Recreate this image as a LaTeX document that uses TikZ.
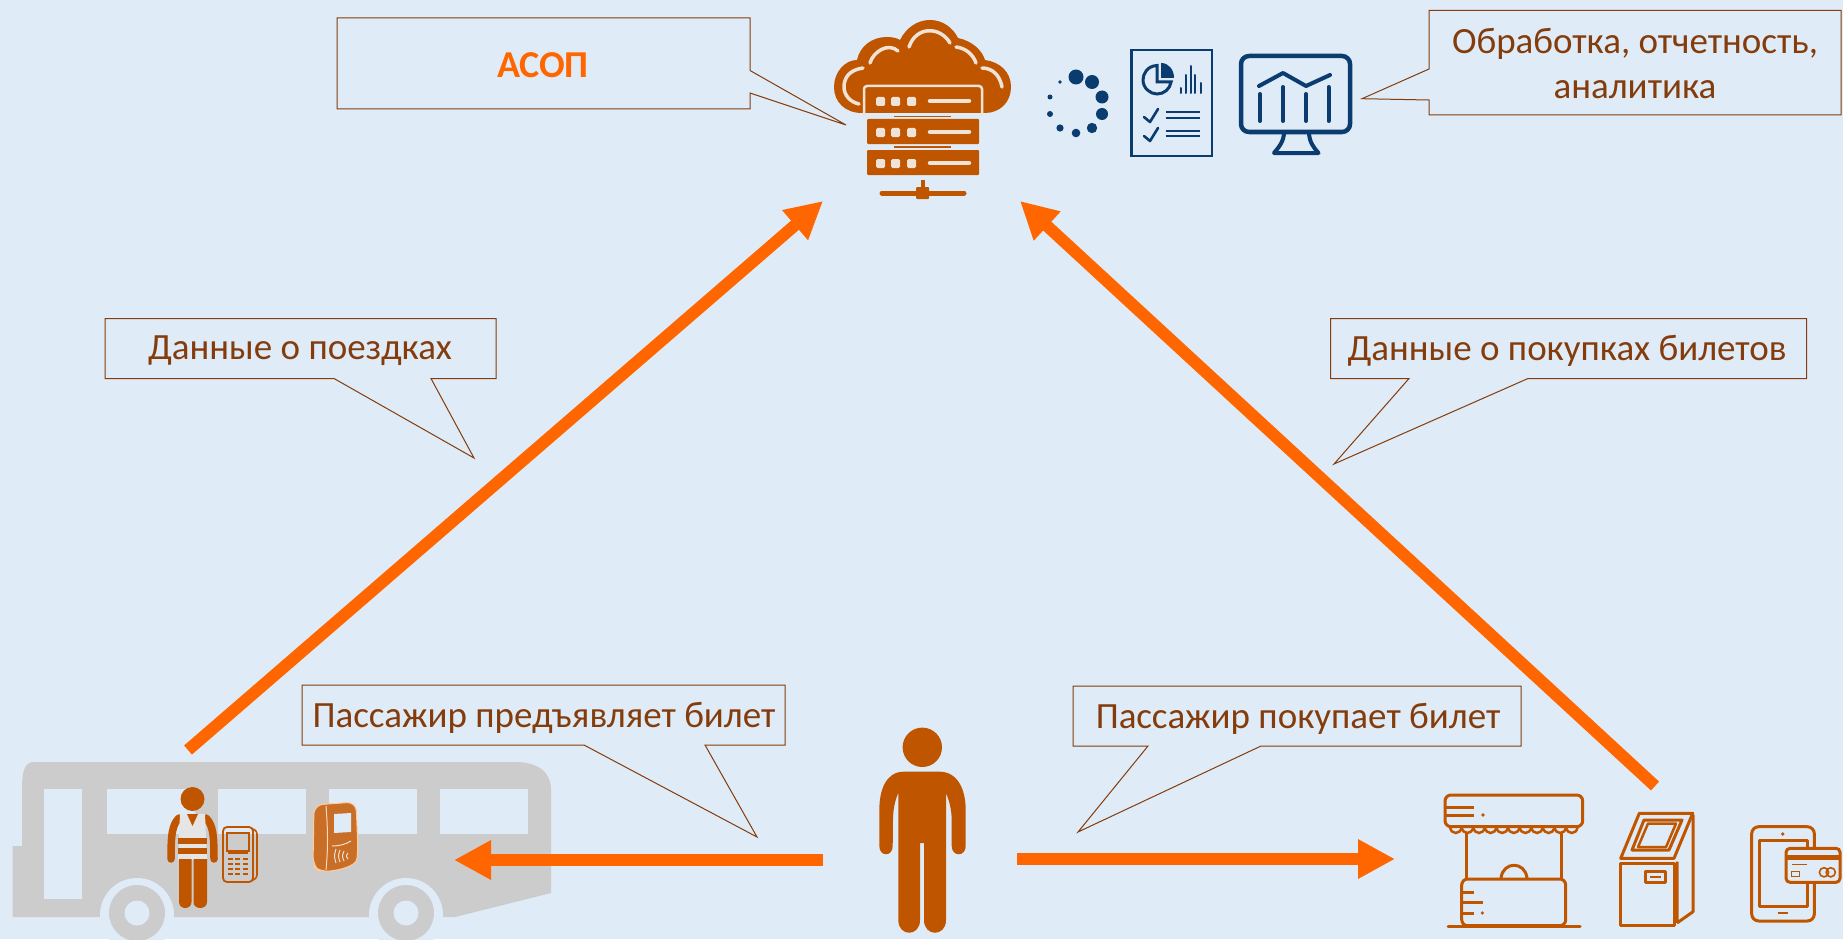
\documentclass[tikz,border=0pt]{standalone}
\usepackage{fontspec}
\setmainfont{Carlito}
\usetikzlibrary{arrows.meta}
\definecolor{bgc}{HTML}{DFEBF6}
\definecolor{brn}{HTML}{843C0C}
\definecolor{org}{HTML}{FF6600}
\definecolor{ico}{HTML}{C05500}
\definecolor{blu}{HTML}{0B3C70}
\definecolor{gry}{HTML}{CCCCCC}
\definecolor{lite}{HTML}{EFE3D8}
\tikzset{
 lbl/.style={text=brn,font=\fontsize{37}{45}\selectfont,align=center,inner sep=0pt},
 bubble/.style={draw=brn,line width=1pt,line join=miter},
 bigarrow/.style={org,line width=12pt,-{Triangle[length=37pt,width=37pt]}},
 lineicon/.style={draw=ico,line width=3pt,line join=round},
 hl/.style={draw=lite,line width=3.5pt,line cap=round},
 bluline/.style={draw=blu,line cap=round,line join=round},
}
\begin{document}
\begin{tikzpicture}[x=1pt,y=-1pt]
\useasboundingbox (0,0) rectangle (1843,939);
\clip (0,0) rectangle (1843,939);
\fill[bgc] (0,0) rectangle (1843,939);

% anchor points of connectors
\coordinate (busOut) at (188,750);
\coordinate (cloudL) at (823,201);
\coordinate (atmOut) at (1655,786);
\coordinate (cloudR) at (1020,201);
\coordinate (persL) at (823,860);
\coordinate (busIn) at (454,860);
\coordinate (persR) at (1017,859);
\coordinate (shopIn) at (1395,859);

% ---- bus
\fill[gry] (12.6,917) -- (12.6,846) -- (22,846) -- (22,790) .. controls (22,772) and (24,762) .. (34,762) -- (515,762) .. controls (538,762) and (551,772) .. (551,790) -- (551,893) -- (455,917) -- cycle;
\foreach \xa/\xb in {107/195,218/306,329/417,440/528}{\fill[bgc] (\xa,789) rectangle (\xb,834);}
\fill[bgc] (44,789) rectangle (82,899);
\foreach \cx in {137,406}{
 \fill[bgc] (\cx,915) circle[radius=37];
 \fill[gry] (\cx,913) circle[radius=28];
 \fill[bgc] (\cx,913) circle[radius=12.5];
}

% ---- conductor
\fill[ico] (192.5,799) circle[radius=12];
\draw[ico,line width=7.5pt,line cap=round,line join=round] (179,818) .. controls (172,825) and (171,835) .. (171,859);
\draw[ico,line width=7.5pt,line cap=round,line join=round] (206,818) .. controls (213,825) and (214,835) .. (214,859);
\fill[gray!20] (180,814) -- (205,814) -- (207,860) -- (178,860) -- cycle;
\fill[ico] (187,814) -- (198,814) -- (192.5,826) -- cycle;
\fill[ico] (178,838) rectangle (207,844);
\fill[ico] (178,848) rectangle (207,854);
\fill[ico] (179,859) -- (191.5,859) -- (191.5,902) .. controls (191.5,910) and (179,910) .. (179,902) -- cycle;
\fill[ico] (193.5,859) -- (207,859) -- (207,902) .. controls (207,910) and (193.5,910) .. (193.5,902) -- cycle;

% ---- POS terminal
\draw[ico,line width=1.8pt,rounded corners=4pt] (223,827) rectangle (253,882);
\draw[ico,line width=1.6pt,rounded corners=3pt] (253,829) -- (257,831) -- (257,878) -- (253,880);
\draw[ico,line width=1.4pt] (227,833) rectangle (249,851);
\foreach \y in {858,863,868,873}{\foreach \x in {228,235,243}{\fill[ico] (\x,\y) rectangle ++(5,2.4);}}
\draw[ico,line width=1.4pt] (228,853) -- (248,853);

% ---- validator
\fill[ico!85!white,draw=orange!40!white,line width=1pt,rounded corners=9pt] (314,805) -- (356,802) -- (358,850) .. controls (356,866) and (340,870) .. (320,872) -- (313,866) -- cycle;
\draw[orange!30!white,line width=1pt] (326,806) .. controls (328,830) and (328,850) .. (326,870);
\fill[bgc] (334,814) -- (351,813) -- (351,832) -- (334,833) -- cycle;
\draw[lite,line width=1pt] (332,846) .. controls (340,846) and (346,844) .. (351,841);
\foreach \x/\h in {336/7,340/6,344/5,348/3}{\draw[lite,line width=1pt] (\x,{856-\h}) .. controls ({\x-2},856) .. (\x,{856+\h});}

% ---- person
\fill[ico] (922.3,747.3) circle[radius=19.7];
\fill[ico] (903.3,771.7) -- (940,771.7) .. controls (958,772) and (965.7,790) .. (965.7,810) -- (965.7,846) .. controls (965.7,857) and (951.7,857) .. (951.7,846) -- (951.7,820) .. controls (951.7,810) and (949,800) .. (946,793) -- (946,920) .. controls (946,937) and (924,937) .. (924,920) -- (924,843) -- (920,843) -- (920,920) .. controls (920,937) and (898.3,937) .. (898.3,920) -- (898.3,793) .. controls (895,800) and (893,810) .. (893,820) -- (892.7,846) .. controls (892.7,857) and (879.3,857) .. (879.3,846) -- (879.3,810) .. controls (879.3,790) and (886,772) .. (903.3,771.7) -- cycle;

% ---- shop
\draw[lineicon,rounded corners=6pt] (1445,795) rectangle (1582.7,826.7);
\draw[lineicon] (1445,807.7) -- (1474,807.7) (1445,815) -- (1474,815);
\fill[ico] (1483,815) circle[radius=1.8];
\foreach \i in {0,...,10}{\pgfmathsetmacro\xs{1450+11.6*\i}
 \draw[ico,line width=2.5pt] (\xs,827) .. controls ({\xs+1},835) and ({\xs+10.6},835) .. ({\xs+11.6},827);}
\draw[lineicon] (1466.7,832) -- (1466.7,878) (1561,832) -- (1561,878);
\draw[lineicon] (1501,878) .. controls (1503,861) and (1525,861) .. (1527,878);
\draw[lineicon,rounded corners=6pt] (1461.7,879) rectangle (1565.7,925.7);
\draw[lineicon] (1461.7,892.7) -- (1474,892.7) (1461.7,902.7) -- (1483,902.7) (1461.7,913) -- (1474,913);
\fill[ico] (1482.3,913) circle[radius=1.8];
\draw[lineicon,line cap=round] (1448,926) -- (1580,926);

% ---- ticket machine
\draw[lineicon] (1620.7,863.3) rectangle (1674,925);
\draw[lineicon] (1620.7,858.3) -- (1639.3,813.3) -- (1692.7,813.3) -- (1674,858.3) -- cycle;
\draw[lineicon] (1632,850) -- (1644,820) -- (1682,820) -- (1669,850) -- cycle;
\draw[lineicon,line width=2.5pt] (1638,847) -- (1648,823.5) -- (1676,823.5) -- (1666,847) -- cycle;
\draw[lineicon] (1677,923) -- (1693,911.7) -- (1693,815) (1677,861.7) -- (1677,923);
\draw[lineicon] (1645,871.7) rectangle (1665.7,882.3);
\draw[ico,line width=2pt] (1650,877) -- (1661,877);

% ---- tablet with card
\draw[lineicon,rounded corners=7pt] (1751.7,826.7) rectangle (1814.3,921);
\draw[lineicon] (1759.3,840) rectangle (1807.3,906.7);
\fill[ico] (1782.7,834) circle[radius=1.8];
\draw[ico,line width=2.2pt] (1777.7,913.3) -- (1788.3,913.3);
\filldraw[fill=bgc,draw=ico,line width=3pt,rounded corners=4pt] (1786,848.3) rectangle (1840,882.3);
\fill[ico] (1787,855) rectangle (1839,860);
\draw[ico,line width=1.2pt] (1791.7,864.3) -- (1806.7,864.3);
\draw[ico,line width=1pt] (1791.7,871.7) rectangle (1799,876.7);
\draw[ico,line width=1.6pt] (1824,872.3) circle[radius=4.6] (1830.7,872.3) circle[radius=4.6];

% ---- cloud server
\fill[ico] (862,113) .. controls (845,113) and (834,102) .. (834,87) .. controls (834,72) and (845,60) .. (857,60) .. controls (860,46) and (872,37) .. (887,37) .. controls (892,37) and (897,38) .. (900,40) .. controls (906,28) and (917,20) .. (930,20) .. controls (943,20) and (953,28) .. (958,38) .. controls (972,41) and (982,50) .. (985,60) .. controls (1000,62) and (1011,72) .. (1011,87) .. controls (1011,102) and (1000,113) .. (985,113) -- cycle;
\draw[hl] (863,68) .. controls (849,70) and (844,78) .. (844,87) .. controls (844,95) and (850,102) .. (859,104);
\draw[hl] (870,63) .. controls (873,52) and (888,42) .. (898,51);
\draw[hl] (909,47) .. controls (916,26) and (940,26) .. (950,43);
\draw[hl] (956,47) .. controls (965,48) and (973,54) .. (976,63);
\draw[hl] (982,68) .. controls (993,68) and (1000,76) .. (1002,87);
\fill[bgc] (862,113) rectangle (985,118);
\draw[lite,line width=2.5pt,rounded corners=3pt] (864,116) -- (864,86) -- (982,86) -- (982,116);
\foreach \ya in {88,119,150}{
 \fill[ico,rounded corners=1pt] (867,\ya) rectangle (979,\ya+25);
 \foreach \x in {876,891,907}{\fill[lite,rounded corners=1.5pt] (\x,\ya+9) rectangle ++(9,9);}
 \draw[lite,line width=4.5pt,line cap=round] (930,\ya+13) -- (969,\ya+13);
}
\foreach \y in {116.5,147}{\draw[ico,line width=1.6pt] (894,\y) -- (951,\y);}
\draw[ico,line width=4pt] (922.5,180) -- (922.5,193);
\draw[ico,line width=5pt,line cap=round] (882,193) -- (964,193);
\fill[ico,rounded corners=1pt] (916,187) rectangle (929,199);

% ---- spinner
\foreach \x/\y/\r in {1076/77/7.5,1092/82/7,1102/97/6.5,1102/114/6,1092/128/5.2,1076/133/4.3,1060/128/3.6,1050/114/3,1050/97/2.5,1060/82/1.8}{
 \fill[blu] (\x,\y) circle[radius=\r];}

% ---- report
\draw[blu,line width=2.5pt] (1131.4,50) rectangle (1212,156);
\draw[blu,line width=3pt] (1157,65.5) .. controls (1147,66) and (1143,74) .. (1143,80) .. controls (1143,88) and (1150,94) .. (1157,94) .. controls (1164,94) and (1170,89) .. (1171,82) -- (1157,82) -- cycle;
\fill[blu] (1161,63) .. controls (1169,63) and (1174,70) .. (1174,78) -- (1161,78) -- cycle;
\foreach \x/\y in {1181/88,1186/75,1190.5/66,1195/75,1201/83}{\draw[bluline,line width=2pt] (\x,\y) -- (\x,93);}
\foreach \d in {0,19}{\draw[bluline,line width=2.6pt] (1144,117+\d) -- (1150,122+\d) -- (1158,109+\d);}
\foreach \y in {112,118,131,136}{\draw[blu,line width=2.2pt] (1165.5,\y) -- (1200,\y);}

% ---- monitor
\draw[bluline,line width=4.5pt,rounded corners=8pt] (1241,56) rectangle (1350,132);
\draw[bluline,line width=4pt] (1284,132) .. controls (1284,142) and (1278,148) .. (1274,153) -- (1318.5,153) .. controls (1314,148) and (1309,142) .. (1309,132);
\draw[bluline,line width=4pt] (1259,86) -- (1283,73) -- (1306,86) -- (1330,75);
\draw[bluline,line width=4pt] (1260,94) -- (1260,121) (1283,87) -- (1283,121) (1306,94) -- (1306,121) (1328.5,87) -- (1328.5,121);

% ---- arrows
\draw[bigarrow] (busOut) -- (cloudL);
\draw[bigarrow] (atmOut) -- (cloudR);
\draw[bigarrow] (persL) -- (busIn);
\draw[bigarrow] (persR) -- (shopIn);

% ---- callouts
\draw[bubble] (337,18) -- (750,18) -- (750,70.5) -- (846,125) -- (750,93) -- (750,109) -- (337,109) -- cycle;
\node[lbl,font=\fontsize{38}{45}\selectfont\bfseries,text=org] (asop) at (543,65) {АСОП};

\draw[bubble] (1429,10.5) -- (1841,10.5) -- (1841,115) -- (1429,115) -- (1429,100) -- (1362,98.7) -- (1429,69) -- cycle;
\node[lbl] (proc) at (1635,64) {Обработка, отчетность,\\аналитика};

\draw[bubble] (105,318.5) -- (496,318.5) -- (496,378.5) -- (431,378.5) -- (474,458) -- (334,378.5) -- (105,378.5) -- cycle;
\node[lbl] (trips) at (300,351) {Данные о поездках};

\draw[bubble] (1330.5,318.5) -- (1806.6,318.5) -- (1806.6,378.5) -- (1528,378.5) -- (1334,464) -- (1409,378.5) -- (1330.5,378.5) -- cycle;
\node[lbl] (buys) at (1567,351) {Данные о покупках билетов};

\draw[bubble] (302,685) -- (785,685) -- (785,745) -- (705,745) -- (757,837) -- (584,745) -- (302,745) -- cycle;
\node[lbl] (shows) at (544,718) {Пассажир предъявляет билет};

\draw[bubble] (1073,686) -- (1521,686) -- (1521,746) -- (1261,746) -- (1078,832) -- (1148,746) -- (1073,746) -- cycle;
\node[lbl] (pays) at (1298,719) {Пассажир покупает билет};
\end{tikzpicture}
\end{document}
